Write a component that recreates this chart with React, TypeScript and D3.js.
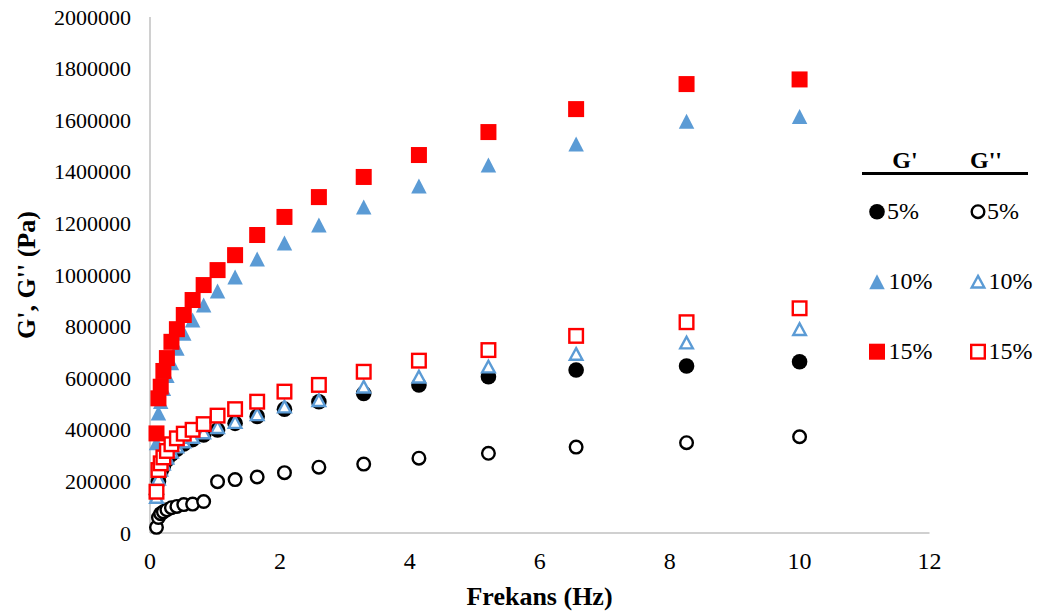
import React from "react";
import * as d3 from "d3";

const freq = [0.1, 0.13, 0.165, 0.206, 0.26, 0.33, 0.414, 0.52, 0.656, 0.826, 1.04, 1.31, 1.65, 2.07, 2.6, 3.29, 4.14, 5.21, 6.56, 8.26, 10];

const gp5 = [150000, 200000, 235000, 258000, 283000, 305000, 325000, 345000, 362000, 380000, 399000, 425000, 452000, 480000, 509000, 541000, 574000, 606000, 632000, 647000, 664000];
const gpp5 = [22000, 60000, 75000, 82000, 90000, 98000, 103000, 110000, 112000, 122000, 199000, 207000, 217000, 234000, 255000, 267000, 290000, 309000, 333000, 350000, 373000];
const gp10 = [350000, 465000, 510000, 560000, 610000, 660000, 716000, 774000, 826000, 884000, 938000, 992000, 1062000, 1124000, 1194000, 1264000, 1345000, 1426000, 1508000, 1596000, 1614000];
const gpp10 = [140000, 210000, 245000, 268000, 292000, 315000, 335000, 355000, 372000, 390000, 410000, 430000, 460000, 490000, 515000, 567000, 606000, 645000, 694000, 738000, 790000];
const gp15 = [386000, 522000, 567000, 628000, 678000, 741000, 790000, 845000, 903000, 961000, 1019000, 1077000, 1155000, 1225000, 1302000, 1380000, 1465000, 1554000, 1643000, 1740000, 1758000];
const gpp15 = [160000, 244000, 270000, 293000, 318000, 344000, 367000, 385000, 400000, 422000, 455000, 480000, 509000, 548000, 574000, 625000, 668000, 709000, 764000, 817000, 871000];

const xTicks = [0, 2, 4, 6, 8, 10, 12];
const yTicks = [0, 200000, 400000, 600000, 800000, 1000000, 1200000, 1400000, 1600000, 1800000, 2000000];

const legendRows = ["5%", "10%", "15%"];

const BLACK = "#000000";
const BLUE = "#5b9bd5";
const RED = "#ff0000";

type Shape = "circle" | "triangle" | "square";

function Marker({ x, y, shape, color, filled }: { x: number; y: number; shape: Shape; color: string; filled: boolean }) {
  const sw = 2.4;
  if (shape === "circle") {
    return filled ? (
      <circle cx={x} cy={y} r={7.8} fill={color} />
    ) : (
      <circle cx={x} cy={y} r={6.3} fill="#fff" stroke={color} strokeWidth={sw} />
    );
  }
  if (shape === "square") {
    return filled ? (
      <rect x={x - 8} y={y - 8} width={16} height={16} fill={color} />
    ) : (
      <rect x={x - 6.8} y={y - 6.8} width={13.6} height={13.6} fill="#fff" stroke={color} strokeWidth={sw} />
    );
  }
  if (filled) {
    const w = 15.5, h = 15;
    const p = `M${x},${y - h / 2} L${x + w / 2},${y + h / 2} L${x - w / 2},${y + h / 2} Z`;
    return <path d={p} fill={color} />;
  }
  const w = 12.6, h = 11.6;
  const p = `M${x},${y - h / 2} L${x + w / 2},${y + h / 2} L${x - w / 2},${y + h / 2} Z`;
  return <path d={p} fill="#fff" stroke={color} strokeWidth={sw} strokeLinejoin="miter" />;
}

export default function App() {
  const xs = d3.scaleLinear().domain([0, 12]).range([150, 929.5]);
  const ys = d3.scaleLinear().domain([0, 2000000]).range([533, 17]);

  const series: { vals: number[]; shape: Shape; color: string; filled: boolean }[] = [
    { vals: gp5, shape: "circle", color: BLACK, filled: true },
    { vals: gpp5, shape: "circle", color: BLACK, filled: false },
    { vals: gp10, shape: "triangle", color: BLUE, filled: true },
    { vals: gpp10, shape: "triangle", color: BLUE, filled: false },
    { vals: gp15, shape: "square", color: RED, filled: true },
    { vals: gpp15, shape: "square", color: RED, filled: false },
  ];

  const font = "'Liberation Serif', 'Times New Roman', serif";
  const legendY = [211.7, 281.7, 351.7];
  const legendShapes: [Shape, string][] = [["circle", BLACK], ["triangle", BLUE], ["square", RED]];

  return (
    <svg width={1039} height={616} style={{ position: "absolute", left: 0, top: 0, background: "#fff" }} fontFamily={font}>
      <rect x={0} y={0} width={1039} height={616} fill="#fff" />
      {/* axes */}
      <line x1={xs(0)} x2={xs(0)} y1={ys(2000000)} y2={ys(0)} stroke="#c0c0c0" strokeWidth={1.5} />
      <line x1={xs(0)} x2={xs(12)} y1={ys(0)} y2={ys(0)} stroke="#c0c0c0" strokeWidth={1.5} />
      {xTicks.map((t) => (
        <text key={"xt" + t} x={xs(t)} y={569} fontSize={24} textAnchor="middle" fill="#000">{t}</text>
      ))}
      {yTicks.map((t) => (
        <text key={"yt" + t} x={131} y={ys(t) + 7.5} fontSize={22} textAnchor="end" fill="#000">{t}</text>
      ))}
      <text x={539.5} y={605} fontSize={26} fontWeight="bold" textAnchor="middle" fill="#000">Frekans (Hz)</text>
      <text transform={`translate(35,${(ys(0) + ys(2000000)) / 2}) rotate(-90)`} fontSize={26} fontWeight="bold" textAnchor="middle" fill="#000">G', G'' (Pa)</text>
      {/* points */}
      {series.map((s, si) => (
        <g key={"s" + si}>
          {s.vals.map((v, i) => (
            <Marker key={i} x={xs(freq[i])} y={ys(v)} shape={s.shape} color={s.color} filled={s.filled} />
          ))}
        </g>
      ))}
      {/* legend table */}
      <text x={905} y={168} fontSize={24} fontWeight="bold" textAnchor="middle" fill="#000">G'</text>
      <text x={986} y={168} fontSize={24} fontWeight="bold" textAnchor="middle" fill="#000">G''</text>
      <line x1={862} x2={1028} y1={173.5} y2={173.5} stroke="#000" strokeWidth={3} />
      {legendRows.map((r, i) => (
        <g key={"lg" + r}>
          <Marker x={877} y={legendY[i]} shape={legendShapes[i][0]} color={legendShapes[i][1]} filled={true} />
          <text x={887 + (i > 0 ? 1.5 : 0)} y={legendY[i] + 7.5} fontSize={24} fill="#000">{r}</text>
          <Marker x={978} y={legendY[i]} shape={legendShapes[i][0]} color={legendShapes[i][1]} filled={false} />
          <text x={987 + (i > 0 ? 1.5 : 0)} y={legendY[i] + 7.5} fontSize={24} fill="#000">{r}</text>
        </g>
      ))}
    </svg>
  );
}
